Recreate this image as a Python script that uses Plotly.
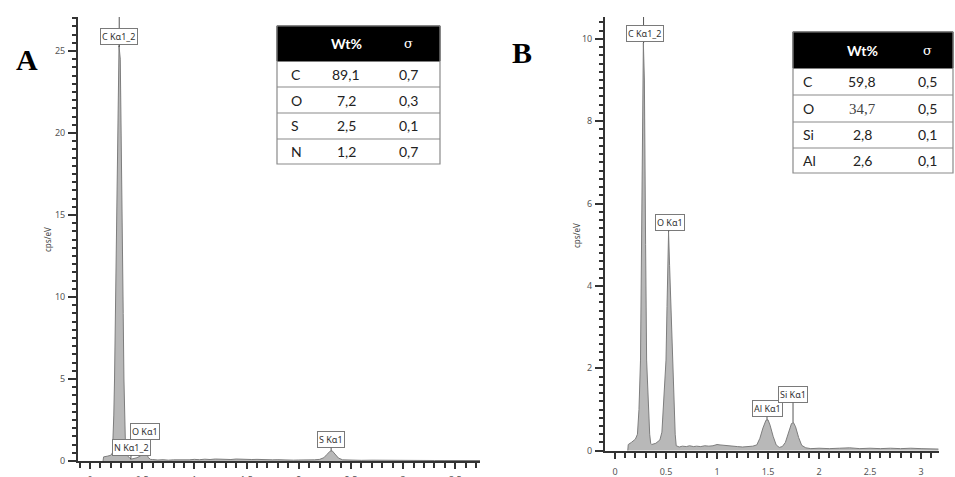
import plotly.graph_objects as go

# ---------------- data ----------------
energy_a = [0.125, 0.13, 0.17, 0.20, 0.215, 0.222, 0.228, 0.235, 0.242, 0.25, 0.256, 0.262, 0.27, 0.278,
            0.29, 0.30, 0.31, 0.318, 0.325, 0.333, 0.34, 0.355, 0.37, 0.385, 0.40, 0.42, 0.45, 0.48, 0.50,
            0.515, 0.53, 0.545, 0.56, 0.58, 0.6, 0.65, 0.7, 0.75, 0.8, 0.85, 0.9, 0.95, 1.0, 1.05, 1.1,
            1.15, 1.2, 1.25, 1.3, 1.35, 1.4, 1.45, 1.5, 1.55, 1.6, 1.65, 1.7, 1.75, 1.8, 1.85, 1.9, 1.95,
            2.0, 2.05, 2.1, 2.15, 2.2, 2.24, 2.27, 2.3, 2.32, 2.35, 2.38, 2.42, 2.5, 2.6, 2.7, 2.8, 2.9,
            3.0, 3.1, 3.2, 3.3, 3.4, 3.5, 3.6, 3.74]
counts_a = [0.0, 0.25, 0.3, 0.35, 0.5, 1.5, 2.8, 5.0, 8.5, 12.0, 15.6, 18.2, 23.2, 25.3,
            24.5, 20.0, 14.0, 9.0, 5.0, 2.3, 0.8, 0.35, 0.25, 0.15, 0.12, 0.15, 0.2, 0.3, 0.4,
            0.5, 0.5, 0.4, 0.2, 0.1, 0.09, 0.06, 0.08, 0.05, 0.07, 0.06, 0.08, 0.07, 0.1, 0.08, 0.11,
            0.09, 0.12, 0.1, 0.11, 0.09, 0.12, 0.1, 0.11, 0.09, 0.1, 0.08, 0.09, 0.07, 0.08, 0.06, 0.07, 0.05,
            0.06, 0.05, 0.06, 0.07, 0.1, 0.2, 0.4, 0.6, 0.62, 0.4, 0.18, 0.07, 0.05, 0.04, 0.05, 0.04, 0.03,
            0.04, 0.03, 0.04, 0.03, 0.03, 0.04, 0.03, 0.03]

energy_b = [0.125, 0.13, 0.16, 0.2, 0.22, 0.235, 0.25, 0.256, 0.26, 0.268, 0.278, 0.288, 0.295, 0.3,
            0.31, 0.327, 0.34, 0.35, 0.36, 0.4, 0.44, 0.46, 0.474, 0.5, 0.51, 0.518, 0.525, 0.535,
            0.548, 0.566, 0.58, 0.59, 0.6, 0.63, 0.66, 0.7, 0.73, 0.77, 0.8, 0.84, 0.88, 0.92, 0.96,
            1.0, 1.03, 1.06, 1.1, 1.15, 1.2, 1.25, 1.3, 1.35, 1.39, 1.42, 1.45, 1.48, 1.5, 1.52, 1.55,
            1.58, 1.61, 1.64, 1.67, 1.7, 1.73, 1.75, 1.77, 1.8, 1.83, 1.87, 1.92, 2.0, 2.1, 2.2, 2.3,
            2.4, 2.5, 2.6, 2.7, 2.8, 2.9, 3.0, 3.1, 3.17]
counts_b = [0.0, 0.15, 0.2, 0.28, 0.4, 1.0, 2.2, 4.0, 6.3, 9.0, 9.9, 9.0, 7.4, 5.0,
            2.2, 1.0, 0.4, 0.18, 0.15, 0.18, 0.26, 0.45, 1.0, 2.2, 3.5, 4.5, 5.3, 4.5,
            3.5, 2.2, 1.0, 0.4, 0.12, 0.09, 0.11, 0.1, 0.12, 0.1, 0.11, 0.1, 0.12, 0.11, 0.12,
            0.15, 0.14, 0.13, 0.12, 0.11, 0.1, 0.09, 0.1, 0.11, 0.14, 0.3, 0.55, 0.74, 0.75, 0.62, 0.35,
            0.14, 0.08, 0.1, 0.2, 0.45, 0.66, 0.68, 0.58, 0.32, 0.13, 0.07, 0.05, 0.06, 0.05, 0.06, 0.07,
            0.05, 0.06, 0.05, 0.06, 0.05, 0.06, 0.05, 0.05, 0.04]

# peak labels: text, energy, height
peaks_a_text = ["C Kα1_2", "O Kα1", "N Kα1_2", "S Kα1"]
peaks_a_x = [0.28, 0.525, 0.39, 2.31]
peaks_a_y = [25.25, 0.45, 0.1, 0.62]

peaks_b_text = ["C Kα1_2", "O Kα1", "Al Kα1", "Si Kα1"]
peaks_b_x = [0.28, 0.525, 1.49, 1.745]
peaks_b_y = [9.9, 5.3, 0.75, 0.68]

# tables
elements_a = ["C", "O", "S", "N"]
wt_a = ["89,1", "7,2", "2,5", "1,2"]
sigma_a = ["0,7", "0,3", "0,1", "0,7"]

elements_b = ["C", "O", "Si", "Al"]
wt_b = ["59,8", "34,7", "2,8", "2,6"]
sigma_b = ["0,5", "0,5", "0,1", "0,1"]

# ---------------- layout helpers ----------------
W, H = 955, 477


def px(x):
    return x / W


def py(y):
    return 1 - y / H


AX = "#333333"
TICKF = dict(family="Noto Sans", size=9, color="#555555")

fig = go.Figure()
fig.add_trace(go.Scatter(x=energy_a, y=counts_a, mode="lines", fill="tozeroy",
                         fillcolor="#b8b8b8", line=dict(color="#7d7d7d", width=1),
                         xaxis="x", yaxis="y", hoverinfo="skip", showlegend=False))
fig.add_trace(go.Scatter(x=energy_b, y=counts_b, mode="lines", fill="tozeroy",
                         fillcolor="#b8b8b8", line=dict(color="#7d7d7d", width=1),
                         xaxis="x2", yaxis="y2", hoverinfo="skip", showlegend=False))


def xax(domain, rng, anchor, standoff):
    return dict(domain=domain, range=rng, anchor=anchor, showline=True, linecolor=AX, linewidth=2,
                ticks="outside", ticklen=6, tickwidth=1.5, tickcolor=AX, tick0=0, dtick=0.5,
                minor=dict(dtick=0.1, tick0=0, ticklen=5, ticks="outside", tickcolor=AX, tickwidth=1.5),
                showgrid=False, zeroline=False, tickfont=TICKF, ticklabelstandoff=standoff,
                automargin=False, fixedrange=True)


def yax(domain, rng, anchor, dt, mdt):
    return dict(domain=domain, range=rng, anchor=anchor, showline=True, linecolor=AX, linewidth=2,
                ticks="outside", ticklen=8, tickwidth=1.5, tickcolor=AX, tick0=0, dtick=dt,
                minor=dict(dtick=mdt, tick0=0, ticklen=4, ticks="outside", tickcolor=AX, tickwidth=1.5),
                showgrid=False, zeroline=False, tickfont=TICKF, ticklabelstandoff=1,
                automargin=False, fixedrange=True)


ymax_a = 27.07
ymax_b = 10.53
fig.update_layout(
    width=W, height=H, margin=dict(l=0, r=0, t=0, b=0, autoexpand=False),
    paper_bgcolor="white", plot_bgcolor="white", showlegend=False,
    xaxis=xax([px(78), px(480)], [-0.115, 3.736], "y", 3),
    yaxis=yax([py(461), py(17)], [0, ymax_a], "x", 5, 0.5),
    xaxis2=xax([px(605), px(939)], [-0.098, 3.176], "y2", 5),
    yaxis2=yax([py(450.7), py(17)], [0, ymax_b], "x2", 2, 0.2),
)

shapes = []
annotations = []

# vertical marker lines for the C peaks
shapes.append(dict(type="line", xref="x", yref="y", x0=peaks_a_x[0], x1=peaks_a_x[0],
                   y0=peaks_a_y[0], y1=ymax_a, line=dict(color="#555", width=1)))
shapes.append(dict(type="line", xref="x2", yref="y2", x0=peaks_b_x[0], x1=peaks_b_x[0],
                   y0=peaks_b_y[0], y1=ymax_b, line=dict(color="#555", width=1)))

# peak label offsets (pixels)
off_a = [(0, -10), (0, -22), (1, -12), (0, -11)]
off_b = [(1, -9), (1, -10), (0, -11), (0, -28)]


def peak_labels(texts, xs, ys, offs, xr, yr):
    for t, x, y, (ax, ay) in zip(texts, xs, ys, offs):
        annotations.append(dict(x=x, y=y, xref=xr, yref=yr, text=t, showarrow=True, arrowhead=0,
                                arrowwidth=1, arrowcolor="#555", ax=ax, ay=ay, standoff=0,
                                font=dict(family="Noto Sans", size=9, color="#333"),
                                bgcolor="white", bordercolor="#7a7a7a", borderwidth=1, borderpad=1))


peak_labels(peaks_a_text, peaks_a_x, peaks_a_y, off_a, "x", "y")
peak_labels(peaks_b_text, peaks_b_x, peaks_b_y, off_b, "x2", "y2")


def ptext(x, y, text, font, xanchor="center", angle=0):
    annotations.append(dict(x=px(x), y=py(y), xref="paper", yref="paper", text=text, showarrow=False,
                            xanchor=xanchor, yanchor="middle", textangle=angle, font=font))


# panel letters
ptext(27, 60, "<b>A</b>", dict(family="Liberation Serif", size=30, color="black"))
ptext(522, 52, "<b>B</b>", dict(family="Liberation Serif", size=30, color="black"))

# y axis titles
ptext(47, 240, "cps/eV", dict(family="Noto Sans", size=8, color="#444"), angle=-90)
ptext(577, 236, "cps/eV", dict(family="Noto Sans", size=8, color="#444"), angle=-90)


def table(left, right, top, head_bot, rows, el_x, wt_x, sg_x, elements, wts, sigmas, serif_cells=()):
    shapes.append(dict(type="rect", xref="paper", yref="paper", x0=px(left), x1=px(right),
                       y0=py(head_bot), y1=py(top), fillcolor="black", line=dict(color="black", width=1),
                       layer="above"))
    shapes.append(dict(type="rect", xref="paper", yref="paper", x0=px(left), x1=px(right),
                       y0=py(rows[-1]), y1=py(top), fillcolor="rgba(0,0,0,0)",
                       line=dict(color="#8a8a8a", width=1.2), layer="above"))
    for r in rows[1:-1]:
        shapes.append(dict(type="line", xref="paper", yref="paper", x0=px(left), x1=px(right),
                           y0=py(r), y1=py(r), line=dict(color="#8a8a8a", width=1.2), layer="above"))
    hy = (top + head_bot) / 2
    ptext(wt_x, hy, "<b>Wt%</b>", dict(family="Lato", size=14, color="white"))
    ptext(sg_x, hy, "σ", dict(family="DejaVu Serif", size=13, color="white"))
    for i, (e, w, s) in enumerate(zip(elements, wts, sigmas)):
        cy = (rows[i] + rows[i + 1]) / 2
        ptext(el_x, cy, e, dict(family="Lato", size=14, color="#222"), xanchor="left")
        wf = dict(family="Liberation Serif", size=15, color="#444") if i in serif_cells else \
            dict(family="Lato", size=14, color="#222")
        ptext(wt_x, cy, w, wf)
        ptext(sg_x, cy, s, dict(family="Lato", size=14, color="#222"))


table(277, 440, 26, 61, [61, 87, 113, 139, 164], 289, 346, 408, elements_a, wt_a, sigma_a)
table(793, 953, 32, 68, [68, 95, 122, 148, 173], 801, 862, 927, elements_b, wt_b, sigma_b, serif_cells=(1,))

fig.update_layout(shapes=shapes, annotations=annotations)
fig.write_html("out.html")
